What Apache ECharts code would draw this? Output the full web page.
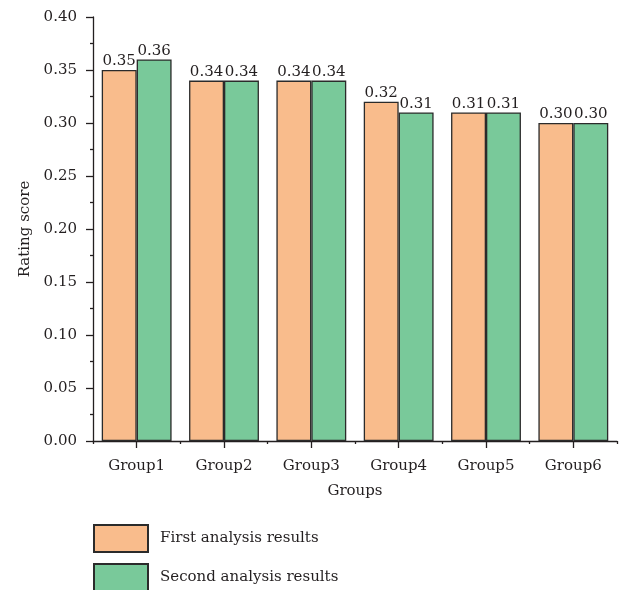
<!DOCTYPE html>
<html>
<head>
<meta charset="utf-8">
<script src="https://cdn.jsdelivr.net/npm/echarts@6/dist/echarts.min.js"></script>
<style>html,body{margin:0;padding:0;background:#fff}#c{width:626px;height:590px}</style>
</head>
<body>
<div id="c"></div>
<script>
const categories = ['Group1', 'Group2', 'Group3', 'Group4', 'Group5', 'Group6'];
const firstResults = [0.35, 0.34, 0.34, 0.32, 0.31, 0.30];
const secondResults = [0.36, 0.34, 0.34, 0.31, 0.31, 0.30];
const seriesNames = ['First analysis results', 'Second analysis results'];

const FONT = 'DejaVu Serif';
const FS = 15;
const TXT = '#231f20';
const chart = echarts.init(document.getElementById('c'));
const lbl = {
  show: true, position: 'top', distance: 1,
  formatter: p => p.value.toFixed(2),
  fontFamily: FONT, fontSize: FS, color: TXT
};
const legendBase = {
  orient: 'vertical', left: 93, padding: 0,
  itemWidth: 54, itemHeight: 27, icon: 'rect',
  textStyle: { fontFamily: FONT, fontSize: FS, color: TXT, padding: [0, 0, 0, 7] }
};
chart.setOption({
  animation: false,
  textStyle: { fontFamily: FONT, color: TXT },
  grid: { left: 93, right: 9, top: 17, bottom: 149 },
  legend: [
    Object.assign({}, legendBase, { top: 524, data: [seriesNames[0]] }),
    Object.assign({}, legendBase, { top: 563, data: [seriesNames[1]] })
  ],
  xAxis: [{
    type: 'category', data: categories, position: 'bottom',
    name: 'Groups', nameLocation: 'middle', nameGap: 43,
    nameTextStyle: { fontFamily: FONT, fontSize: FS, color: TXT },
    axisLine: { lineStyle: { color: '#231f20', width: 1.3 } },
    axisTick: { show: true, alignWithLabel: true, length: 7, lineStyle: { color: '#231f20', width: 1.3 } },
    axisLabel: { fontFamily: FONT, fontSize: FS, color: TXT, margin: 18 }
  }, {
    type: 'category', data: categories, position: 'bottom',
    axisLine: { show: false },
    axisTick: { show: true, length: 3, lineStyle: { color: '#231f20', width: 1.3 } },
    axisLabel: { show: false }
  }],
  yAxis: {
    type: 'value', min: 0, max: 0.4, interval: 0.05,
    name: 'Rating score', nameLocation: 'middle', nameGap: 54,
    nameTextStyle: { fontFamily: FONT, fontSize: FS, color: TXT },
    axisLine: { show: true, lineStyle: { color: '#231f20', width: 1.3 } },
    axisTick: { show: true, length: 7, lineStyle: { color: '#231f20', width: 1.3 } },
    minorTick: { show: true, splitNumber: 2, length: 3, lineStyle: { color: '#231f20', width: 1.3 } },
    splitLine: { show: false },
    axisLabel: { fontFamily: FONT, fontSize: FS, color: TXT, margin: 16, formatter: v => v.toFixed(2) }
  },
  series: [{
    name: seriesNames[0], type: 'bar', data: firstResults,
    barGap: '0%', barCategoryGap: '20%',
    itemStyle: { color: '#f9bc8c', borderColor: '#2b2b2b', borderWidth: 1.3 },
    label: lbl
  }, {
    name: seriesNames[1], type: 'bar', data: secondResults,
    barGap: '0%', barCategoryGap: '20%',
    itemStyle: { color: '#79c99a', borderColor: '#2b2b2b', borderWidth: 1.3 },
    label: lbl
  }]
});
</script>
</body>
</html>
